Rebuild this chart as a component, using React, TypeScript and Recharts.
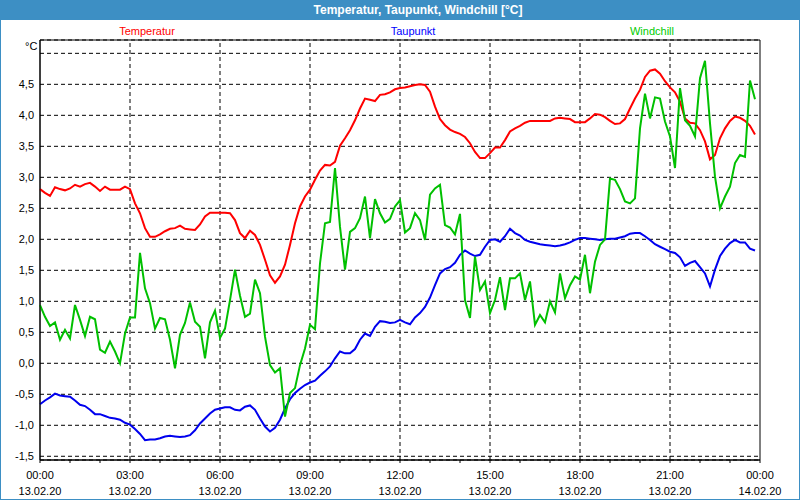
import React from 'react';
import {
  LineChart,
  Line,
  XAxis,
  YAxis,
  CartesianGrid,
  ReferenceLine,
  ReferenceArea,
} from 'recharts';

// 10-minute readings, 13.02.20 00:00 .. 23:50
const temperatur = [
  2.81, 2.75, 2.7, 2.84, 2.81, 2.79, 2.82, 2.88, 2.85, 2.89, 2.91, 2.85, 2.78, 2.85, 2.8, 2.8, 2.8, 2.85, 2.81, 2.58, 2.42, 2.18, 2.04, 2.04,
  2.08, 2.13, 2.17, 2.18, 2.22, 2.17, 2.16, 2.15, 2.24, 2.37, 2.43, 2.43, 2.43, 2.43, 2.42, 2.31, 2.1, 2.02, 2.14, 2.07, 1.91, 1.67, 1.42, 1.3,
  1.4, 1.59, 1.91, 2.26, 2.53, 2.69, 2.8, 2.96, 3.11, 3.2, 3.19, 3.25, 3.51, 3.63, 3.76, 3.92, 4.11, 4.27, 4.25, 4.23, 4.33, 4.34, 4.37, 4.42,
  4.44, 4.45, 4.47, 4.49, 4.5, 4.49, 4.38, 4.14, 3.94, 3.84, 3.77, 3.73, 3.7, 3.65, 3.55, 3.41, 3.31, 3.31, 3.39, 3.48, 3.48, 3.6, 3.74, 3.79,
  3.83, 3.88, 3.91, 3.91, 3.91, 3.91, 3.91, 3.95, 3.96, 3.95, 3.94, 3.89, 3.89, 3.89, 3.95, 4.02, 4.01, 3.97, 3.91, 3.86, 3.87, 3.94, 4.11, 4.27,
  4.41, 4.62, 4.72, 4.74, 4.67, 4.55, 4.45, 4.37, 4.22, 3.95, 3.88, 3.87, 3.76, 3.58, 3.29, 3.36, 3.63, 3.79, 3.91, 3.98, 3.96, 3.91, 3.83, 3.69,
];

const taupunkt = [
  -0.66, -0.6, -0.55, -0.49, -0.52, -0.53, -0.54, -0.6, -0.67, -0.69, -0.75, -0.82, -0.82, -0.85, -0.88, -0.89, -0.91, -0.96, -0.99, -1.06, -1.14, -1.24, -1.23, -1.23,
  -1.21, -1.18, -1.17, -1.18, -1.19, -1.18, -1.16, -1.08, -0.97, -0.89, -0.81, -0.75, -0.73, -0.71, -0.71, -0.75, -0.76, -0.7, -0.68, -0.75, -0.89, -1.02, -1.1, -1.04,
  -0.91, -0.73, -0.58, -0.48, -0.41, -0.35, -0.31, -0.28, -0.2, -0.13, -0.05, 0.08, 0.19, 0.16, 0.16, 0.23, 0.38, 0.48, 0.44, 0.59, 0.68, 0.67, 0.65, 0.66,
  0.7, 0.66, 0.63, 0.74, 0.81, 0.91, 1.06, 1.26, 1.45, 1.52, 1.55, 1.62, 1.75, 1.82, 1.77, 1.73, 1.75, 1.88, 1.99, 2.0, 1.96, 2.05, 2.17, 2.1,
  2.06, 1.99, 1.96, 1.94, 1.92, 1.91, 1.9, 1.89, 1.9, 1.92, 1.95, 1.99, 2.02, 2.02, 2.01, 2.0, 1.99, 2.0, 2.01, 2.01, 2.03, 2.05, 2.09, 2.1,
  2.1, 2.05, 1.99, 1.92, 1.88, 1.84, 1.8, 1.78, 1.71, 1.57, 1.62, 1.65, 1.55, 1.45, 1.24, 1.51, 1.73, 1.85, 1.94, 1.99, 1.95, 1.95, 1.85, 1.82,
];

const windchill = [
  0.94, 0.75, 0.6, 0.66, 0.38, 0.54, 0.4, 0.94, 0.7, 0.44, 0.75, 0.71, 0.22, 0.17, 0.35, 0.19, 0.0, 0.48, 0.74, 0.74, 1.78, 1.21, 0.97, 0.56,
  0.73, 0.71, 0.38, -0.08, 0.46, 0.65, 0.98, 0.67, 0.59, 0.08, 0.66, 0.85, 0.41, 0.56, 1.02, 1.51, 1.09, 0.75, 0.8, 1.35, 1.13, 0.43, -0.03, -0.15,
  -0.08, -0.86, -0.48, -0.4, -0.03, 0.24, 0.62, 0.55, 1.61, 2.26, 2.28, 3.15, 2.2, 1.51, 2.12, 2.18, 2.34, 2.69, 2.02, 2.65, 2.42, 2.27, 2.33, 2.53,
  2.63, 2.11, 2.18, 2.42, 2.31, 1.99, 2.72, 2.82, 2.88, 2.23, 2.19, 2.08, 2.41, 1.02, 0.73, 1.72, 1.18, 1.32, 0.81, 1.02, 1.39, 0.86, 1.37, 1.37,
  1.45, 1.02, 1.32, 0.62, 0.78, 0.66, 1.0, 0.82, 1.45, 1.05, 1.26, 1.4, 1.35, 1.75, 1.13, 1.64, 1.91, 2.0, 2.98, 2.96, 2.81, 2.61, 2.58, 2.66,
  3.79, 4.35, 3.95, 4.29, 4.27, 3.9, 3.66, 3.15, 4.44, 3.92, 3.83, 3.66, 4.6, 4.88, 3.87, 3.01, 2.5, 2.69, 2.85, 3.23, 3.36, 3.33, 4.56, 4.26,
];

const timeLabels = ['00:00', '03:00', '06:00', '09:00', '12:00', '15:00', '18:00', '21:00', '00:00'];
const dateLabels = ['13.02.20', '13.02.20', '13.02.20', '13.02.20', '13.02.20', '13.02.20', '13.02.20', '13.02.20', '14.02.20'];
const yTicks = [-1.5, -1, -0.5, 0, 0.5, 1, 1.5, 2, 2.5, 3, 3.5, 4, 4.5, 5];
const hourTicks = Array.from({ length: 25 }, (_, h) => h * 60);
const gridMinutes = [180, 360, 540, 720, 900, 1080, 1260];

const Y_MIN = -1.56;
const Y_MAX = 5.215;

const data = temperatur.map((v, i) => ({
  t: i * 10,
  temperatur: v,
  taupunkt: taupunkt[i],
  windchill: windchill[i],
}));

const FONT = '"Liberation Sans", Arial, sans-serif';

function TimeTick(props: any) {
  const { x, y, payload } = props;
  const v = payload.value;
  if (v % 180 !== 0) return null;
  const idx = v / 180;
  return (
    <g>
      <text x={x} y={y + 14} textAnchor="middle" fontSize={11} fill="#000" fontFamily={FONT}>
        {timeLabels[idx]}
      </text>
      <text x={x} y={y + 30} textAnchor="middle" fontSize={11} fill="#000" fontFamily={FONT}>
        {dateLabels[idx]}
      </text>
    </g>
  );
}

const fmtY = (v: number) => (v >= 5 ? '' : v.toFixed(1).replace('.', ','));

export default function App() {
  return (
    <div
      style={{
        position: 'absolute',
        left: 0,
        top: 0,
        width: 800,
        height: 500,
        background: '#fff',
        fontFamily: FONT,
      }}
    >
      <LineChart width={800} height={500} data={data} margin={{ top: 40, right: 40, left: 0, bottom: 0 }}>
        <CartesianGrid vertical={false} stroke="#000" strokeDasharray="4 3" />
        {gridMinutes.map((m) => (
          <ReferenceLine key={m} x={m} stroke="#000" strokeDasharray="4 3" />
        ))}
        <XAxis
          dataKey="t"
          type="number"
          domain={[0, 1440]}
          ticks={hourTicks}
          interval={0}
          height={40}
          tickSize={3}
          tick={<TimeTick />}
          stroke="#000"
        />
        <YAxis
          type="number"
          domain={[Y_MIN, Y_MAX]}
          ticks={yTicks}
          interval={0}
          width={40}
          tickLine={false}
          tickSize={4}
          tickMargin={2}
          tickFormatter={fmtY}
          tick={{ fontSize: 11, fill: '#000', fontFamily: FONT }}
          stroke="#000"
          allowDataOverflow
        />
        <ReferenceArea x1={0} x2={1440} y1={Y_MIN} y2={Y_MAX} stroke="#000" fill="none" strokeWidth={1} />
        <Line type="linear" dataKey="temperatur" stroke="#ff0000" strokeWidth={2} dot={false} isAnimationActive={false} />
        <Line type="linear" dataKey="taupunkt" stroke="#0000ee" strokeWidth={2} dot={false} isAnimationActive={false} />
        <Line type="linear" dataKey="windchill" stroke="#00c000" strokeWidth={2} dot={false} isAnimationActive={false} />
      </LineChart>

      <div
        style={{
          position: 'absolute',
          left: 0,
          top: 0,
          width: 800,
          height: 20,
          background: '#3d8fc4',
        }}
      >
        <div
          style={{
            position: 'absolute',
            left: 218,
            width: 400,
            top: 3,
            textAlign: 'center',
            color: '#fff',
            fontWeight: 'bold',
            fontSize: 12,
          }}
        >
          Temperatur, Taupunkt, Windchill [°C]
        </div>
      </div>

      <div style={{ position: 'absolute', left: 97, width: 100, top: 25, textAlign: 'center', fontSize: 11, color: '#ff0000' }}>
        Temperatur
      </div>
      <div style={{ position: 'absolute', left: 363, width: 100, top: 25, textAlign: 'center', fontSize: 11, color: '#0000ff' }}>
        Taupunkt
      </div>
      <div style={{ position: 'absolute', left: 602, width: 100, top: 25, textAlign: 'center', fontSize: 11, color: '#00cc00' }}>
        Windchill
      </div>
      <div style={{ position: 'absolute', left: 25, top: 40, fontSize: 11, color: '#000' }}>°C</div>

      <div
        style={{
          position: 'absolute',
          left: 0,
          top: 0,
          width: 800,
          height: 500,
          boxSizing: 'border-box',
          border: '1px solid #3d8fc4',
          pointerEvents: 'none',
        }}
      />
    </div>
  );
}
